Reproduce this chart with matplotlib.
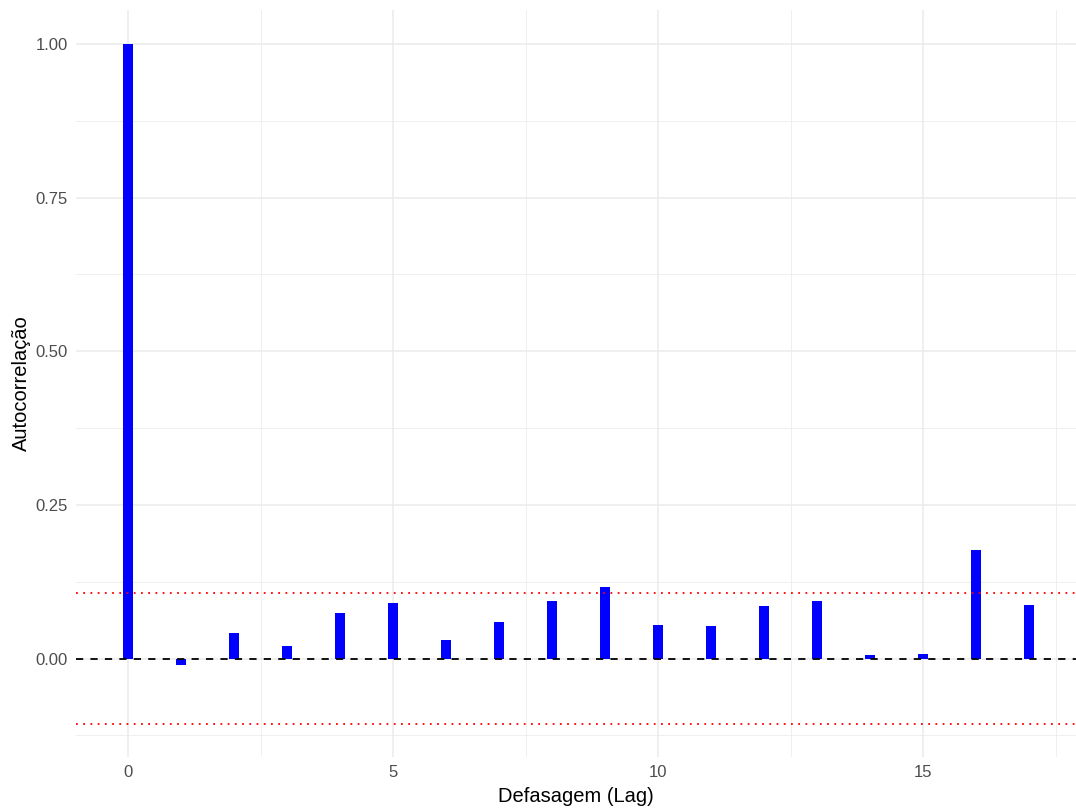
import numpy as np
import matplotlib
matplotlib.use("Agg")
import matplotlib.pyplot as plt
from matplotlib.ticker import MultipleLocator

plt.rcParams["font.family"] = ["Liberation Sans", "DejaVu Sans"]

# ============================================================
# DADOS (ACF)
# ============================================================
lags = np.arange(0, 18)
acf_vals = [1.000, -0.010, 0.042, 0.021, 0.075, 0.090, 0.030, 0.059, 0.094,
            0.116, 0.054, 0.053, 0.085, 0.094, 0.006, 0.007, 0.177, 0.087]
limite_conf = 0.106

# ============================================================
# GRÁFICO
# ============================================================
fig = plt.figure(figsize=(10.76, 8.10), dpi=100)
ax = fig.add_axes([76 / 1076, 1 - 757 / 810, 1000 / 1076, 747 / 810])

cinza_grid = "#EBEBEB"
ax.set_xlim(-0.98, 17.88)
ax.set_ylim(-0.16, 1.055)
ax.xaxis.set_major_locator(MultipleLocator(5))
ax.xaxis.set_minor_locator(MultipleLocator(2.5))
ax.yaxis.set_major_locator(MultipleLocator(0.25))
ax.yaxis.set_minor_locator(MultipleLocator(0.125))
ax.grid(True, which="major", color=cinza_grid, lw=1.1)
ax.grid(True, which="minor", color=cinza_grid, lw=0.55)
ax.set_axisbelow(True)

ax.bar(lags, acf_vals, width=0.19, color="#0000FF", zorder=2)
ax.axhline(0, color="black", ls=(0, (4, 4)), lw=1.3, zorder=3)
ax.axhline(limite_conf, color="red", ls=(0, (1, 3)), lw=1.3, zorder=3)
ax.axhline(-limite_conf, color="red", ls=(0, (1, 3)), lw=1.3, zorder=3)

ax.yaxis.set_major_formatter(plt.FuncFormatter(lambda v, p: f"{v:.2f}"))
for s in ax.spines.values():
    s.set_visible(False)
ax.tick_params(which="both", length=0, labelsize=12, labelcolor="#4D4D4D", pad=6)
ax.set_xlabel("Defasagem (Lag)", fontsize=14.5, labelpad=5)
ax.set_ylabel("Autocorrelação", fontsize=14.5, labelpad=3)

fig.savefig("out.png", dpi=100, facecolor="white")
